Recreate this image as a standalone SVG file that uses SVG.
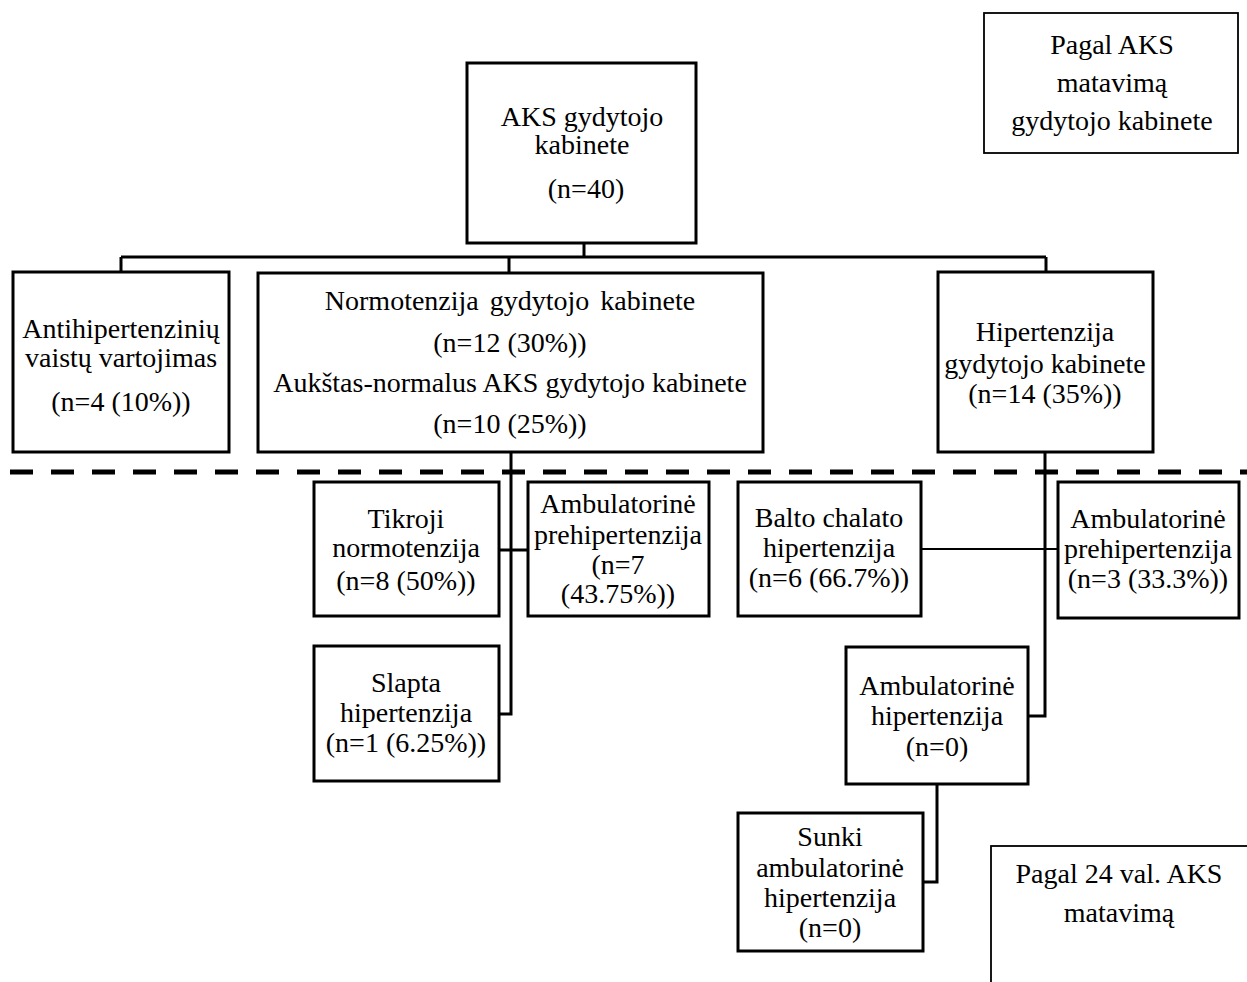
<svg xmlns="http://www.w3.org/2000/svg" width="1247" height="982" viewBox="0 0 1247 982">
<style>
.box{fill:#fff;stroke:#000;stroke-width:3}
.thin{fill:#fff;stroke:#000;stroke-width:1.8}
text{font-family:"Liberation Serif","Times New Roman",serif;font-size:28px;fill:#000;text-anchor:middle}
.c{fill:none;stroke:#000;stroke-width:3}
</style>
<rect width="1247" height="982" fill="#fff"/>
<g id="connectors">
<path class="c" d="M584 243V257M121 257H1046M121 257V272M509 257V273M1046 257V272"/>
<path class="c" d="M511 452V714H499M499 550H528"/>
<path class="c" d="M1045 452V716H1028"/>
<path d="M921 549H1058" fill="none" stroke="#000" stroke-width="2"/>
<path class="c" d="M937 784V882H923"/>
<line x1="10" y1="472" x2="1247" y2="472" stroke="#000" stroke-width="5" stroke-dasharray="23 18"/>
</g>
<g id="legend-top">
<rect class="thin" x="984" y="13" width="254" height="140"/>
<text x="1112" y="54">Pagal AKS</text>
<text x="1112" y="92">matavimą</text>
<text x="1112" y="130">gydytojo kabinete</text>
</g>
<g id="root">
<rect class="box" x="467" y="63" width="229" height="180"/>
<text x="582" y="126">AKS gydytojo</text>
<text x="582" y="154">kabinete</text>
<text x="586" y="198">(n=40)</text>
</g>
<g id="anti">
<rect class="box" x="13" y="272" width="216" height="180"/>
<text x="121" y="338">Antihipertenzinių</text>
<text x="121" y="367">vaistų vartojimas</text>
<text x="121" y="411">(n=4 (10%))</text>
</g>
<g id="normo">
<rect class="box" x="258" y="273" width="505" height="179"/>
<text x="510" y="310" word-spacing="4">Normotenzija gydytojo kabinete</text>
<text x="510" y="352">(n=12 (30%))</text>
<text x="510" y="392">Aukštas-normalus AKS gydytojo kabinete</text>
<text x="510" y="433">(n=10 (25%))</text>
</g>
<g id="hiper">
<rect class="box" x="938" y="272" width="215" height="180"/>
<text x="1045" y="341">Hipertenzija</text>
<text x="1045" y="373">gydytojo kabinete</text>
<text x="1045" y="403">(n=14 (35%))</text>
</g>
<g id="tikroji">
<rect class="box" x="314" y="482" width="185" height="134"/>
<text x="406" y="528">Tikroji</text>
<text x="406" y="557">normotenzija</text>
<text x="406" y="590">(n=8 (50%))</text>
</g>
<g id="amb-pre-left">
<rect class="box" x="528" y="482" width="181" height="134"/>
<text x="618" y="513">Ambulatorinė</text>
<text x="618" y="544">prehipertenzija</text>
<text x="618" y="574">(n=7</text>
<text x="618" y="603">(43.75%))</text>
</g>
<g id="slapta">
<rect class="box" x="314" y="646" width="185" height="135"/>
<text x="406" y="692">Slapta</text>
<text x="406" y="722">hipertenzija</text>
<text x="406" y="752">(n=1 (6.25%))</text>
</g>
<g id="balto">
<rect class="box" x="738" y="482" width="183" height="134"/>
<text x="829" y="527">Balto chalato</text>
<text x="829" y="557">hipertenzija</text>
<text x="829" y="587">(n=6 (66.7%))</text>
</g>
<g id="amb-pre-right">
<rect class="box" x="1058" y="482" width="181" height="136"/>
<text x="1148" y="528">Ambulatorinė</text>
<text x="1148" y="558">prehipertenzija</text>
<text x="1148" y="588">(n=3 (33.3%))</text>
</g>
<g id="amb-hiper">
<rect class="box" x="846" y="647" width="182" height="137"/>
<text x="937" y="695">Ambulatorinė</text>
<text x="937" y="725">hipertenzija</text>
<text x="937" y="756">(n=0)</text>
</g>
<g id="sunki">
<rect class="box" x="738" y="813" width="185" height="138"/>
<text x="830" y="846">Sunki</text>
<text x="830" y="877">ambulatorinė</text>
<text x="830" y="907">hipertenzija</text>
<text x="830" y="937">(n=0)</text>
</g>
<g id="legend-bottom">
<rect class="thin" x="991" y="846" width="300" height="200"/>
<text x="1119" y="883">Pagal 24 val. AKS</text>
<text x="1119" y="922">matavimą</text>
</g>
</svg>
